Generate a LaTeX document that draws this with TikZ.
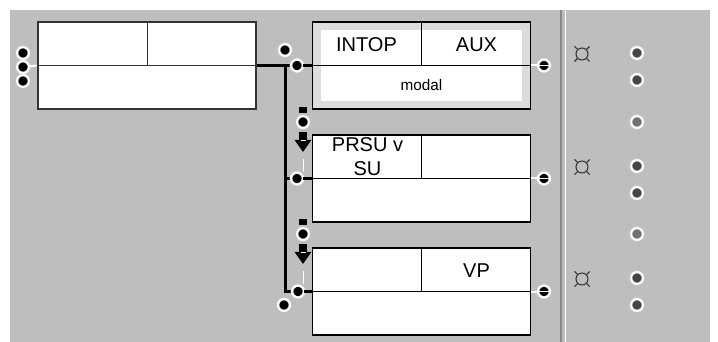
\documentclass[tikz,border=0pt]{standalone}
\usepackage{fontspec}
\setmainfont{Liberation Sans}
\usepackage{tikz}
\usetikzlibrary{arrows.meta,positioning}
\definecolor{panel}{HTML}{BEBEBE}
\definecolor{frame}{HTML}{DCDCDC}
\definecolor{ink}{HTML}{333333}
\definecolor{halo}{HTML}{DDDDDD}
\definecolor{knob}{HTML}{454545}
\definecolor{knobpale}{HTML}{707070}
\definecolor{rule}{HTML}{8A8A8A}

\begin{document}
\begin{tikzpicture}[x=0.75pt,y=-0.75pt,
  box/.style={draw=black,fill=white,line width=0.9pt,minimum width=164pt,minimum height=65.25pt,inner sep=0},
  port/.style={circle,fill=black,draw=halo,line width=0.4pt,double=white,double distance=1.2pt,minimum size=9pt,inner sep=0},
  outport/.style={port,path picture={\draw[white,line width=1pt] (path picture bounding box.west) -- (path picture bounding box.east);}},
  knob/.style={port,fill=knob}, paleknob/.style={port,fill=knobpale},
  lbl/.style={font=\fontsize{15}{18}\selectfont,align=center,inner sep=0},
  bus/.style={line width=2.25pt}, stub/.style={line width=1.6pt},
  flow/.style={line width=6pt,-{Triangle[width=12pt,length=9pt]}},
  latch/.style={fill=black,minimum width=6pt,minimum height=4.5pt,inner sep=0},
  ring/.style={circle,draw=ink,line width=0.8pt,minimum size=9pt,inner sep=0},
  tick/.style={draw=ink,line width=0.8pt}]
  \useasboundingbox (0,0) rectangle (718,342);
  \fill[white] (0,0) rectangle (718,342); \fill[panel] (10,10) rectangle (710,342);
  \draw[rule,line width=1.5pt] (561,10) -- (561,342); \draw[white,line width=0.75pt] (565,10) -- (565,342);
  \node[box,draw=ink,line width=1.6pt] (lb) at (147,65.5) {};
  \draw[ink] (lb.west) -- (lb.east) (lb.north) -- (lb.center);
  \node[box,fill=frame] (b1) at (421.5,65.5) {};
  \fill[white] ([shift={(9,9)}]b1.north west) rectangle ([shift={(-9,-9)}]b1.south east);
  \draw (b1.west) -- (b1.east) (b1.north) -- (b1.center);
  \node[box] (b2) at (421.5,178.5) {}; \draw (b2.west) -- (b2.east) (b2.north) -- (b2.center);
  \node[box] (b3) at (421.5,291.5) {}; \draw (b3.west) -- (b3.east) (b3.north) -- (b3.center);
  \node[lbl] (intop) at ([shift={(-55,-21)}]b1.center) {INTOP};
  \node[lbl] (aux) at ([shift={(55,-21)}]b1.center) {AUX};
  \node[lbl,font=\fontsize{11.5}{14}\selectfont] (modal) at ([shift={(0,20)}]b1.center) {modal};
  \node[lbl] (prsu) at ([shift={(-54,-22)}]b2.center) {PRSU v\\SU};
  \node[lbl] (vp) at ([shift={(55,-21)}]b3.center) {VP};
  \node[port] (lp1) at (23,53) {}; \node[port] (lp3) at (23,81) {}; \node[port] (lp2) at (23,67) {};
  \draw[white,line width=1.5pt] (lp2) -- (lb.west);
  \draw[bus] (lb.east) -- (297,65.5); \draw[bus] (285,65.5) |- (297,178.5); \draw[bus] (285,65.5) |- (298,291.5);
  \node[port] (p1) at (297,65.5) {}; \node[port] (p2) at (297,178.5) {}; \node[port] (p3) at (298,291.5) {};
  \draw[stub] (p1) -- (b1.west); \draw[stub] (p2) -- (b2.west); \draw[stub] (p3) -- (b3.west);
  \node[port] (p0) at (285,50) {}; \node[port] (p4) at (284,305) {};
  \node[latch] (s1) at (303,110.5) {}; \node[port] (d1) at (303,122) {}; \coordinate (a1) at (303,152);
  \node[latch] (s2) at (303,222.5) {}; \node[port] (d2) at (303,234) {}; \coordinate (a2) at (303,264);
  \draw[flow,shorten <=3pt] (d1) -- (a1); \draw[flow,shorten <=3pt] (d2) -- (a2);
  \draw[white,line width=0.75pt] ([yshift=-15]a1) -- ([yshift=-5]a1) ([shift={(-2.5,-11)}]a1) -- ([shift={(2.5,-11)}]a1);
  \draw[white,line width=0.75pt] ([yshift=-15]a2) -- ([yshift=-5]a2) ([shift={(-2.5,-11)}]a2) -- ([shift={(2.5,-11)}]a2);
  \node[outport] (o1) at (544,65.5) {}; \node[outport] (o2) at (544,178.5) {}; \node[outport] (o3) at (544,291.5) {};
  \draw[white,line width=1.5pt] (b1.east) -- (o1); \draw[white,line width=1.5pt] (b2.east) -- (o2); \draw[white,line width=1.5pt] (b3.east) -- (o3);
  \node[ring] (q1) at (582,54) {}; \node[ring] (q2) at (582,167) {}; \node[ring] (q3) at (582,279) {};
  \draw[tick] (q1.45) -- ++(3,-3) (q1.135) -- ++(-3,-3) (q1.-45) -- ++(3,3) (q1.-135) -- ++(-3,3);
  \draw[tick] (q2.45) -- ++(3,-3) (q2.135) -- ++(-3,-3) (q2.-45) -- ++(3,3) (q2.-135) -- ++(-3,3);
  \draw[tick] (q3.45) -- ++(3,-3) (q3.135) -- ++(-3,-3) (q3.-45) -- ++(3,3) (q3.-135) -- ++(-3,3);
  \node[knob] (k1) at (637,53) {}; \node[knob] (k2) at (637,80) {}; \node[paleknob] (k3) at (637,122) {};
  \node[knob] (k4) at (637,166) {}; \node[knob] (k5) at (637,193) {}; \node[paleknob] (k6) at (637,234) {};
  \node[knob] (k7) at (637,278) {}; \node[knob] (k8) at (637,305) {};
\end{tikzpicture}
\end{document}
